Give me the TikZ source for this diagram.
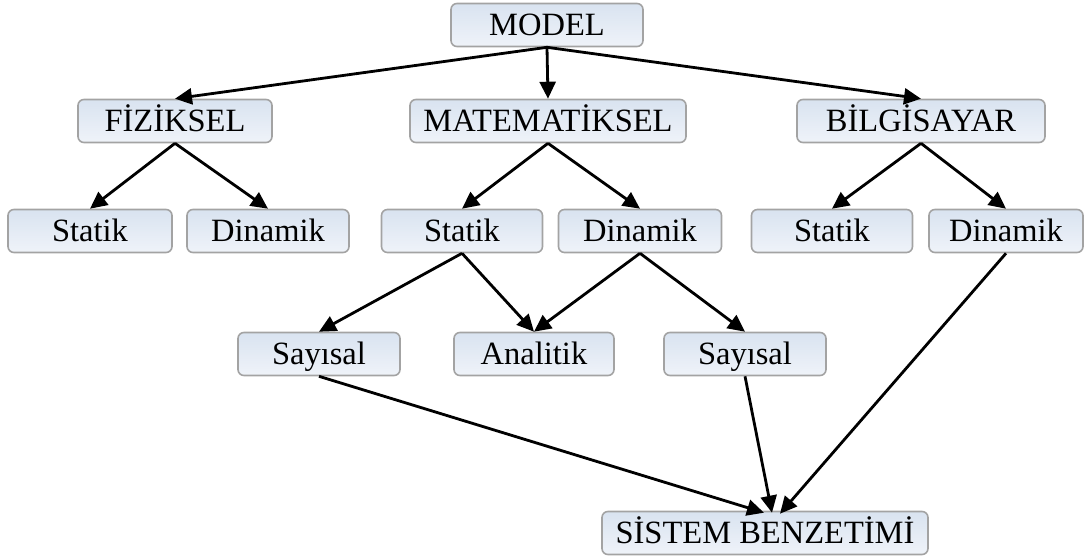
\documentclass[tikz,border=0pt]{standalone}
\usepackage{fontspec}
\setmainfont{Liberation Serif}
\usetikzlibrary{arrows.meta,shadings}
\definecolor{boxtop}{HTML}{D9E3F0}
\definecolor{boxbot}{HTML}{EFF3F9}
\definecolor{boxline}{HTML}{A3A3A3}
\begin{document}
\begin{tikzpicture}[x=1pt,y=-1pt,
  box/.style={draw=boxline, line width=1.6pt, rounded corners=6pt,
    top color=boxtop, bottom color=boxbot, inner sep=0pt,
    text height=24pt, text depth=2.5pt,
    minimum height=43pt, font=\fontsize{32.5}{38}\selectfont},
  link/.style={draw=black, line width=2.8pt,
    -{Triangle[length=17pt,width=16pt]}}]
\useasboundingbox (0,0) rectangle (1085,558);

% top level
\node[box, minimum width=192pt] (model) at (547,25) {MODEL};

% second level
\node[box, minimum width=194pt] (fiz) at (175,121) {FİZİKSEL};
\node[box, minimum width=276pt] (mat) at (548,121) {MATEMATİKSEL};
\node[box, minimum width=248pt] (bil) at (921,121) {BİLGİSAYAR};

% third level
\node[box, minimum width=164pt] (fs) at (90,231) {Statik};
\node[box, minimum width=162pt] (fd) at (268,231) {Dinamik};
\node[box, minimum width=161pt] (ms) at (462,231) {Statik};
\node[box, minimum width=163pt] (md) at (640,231) {Dinamik};
\node[box, minimum width=161pt] (bs) at (832,231) {Statik};
\node[box, minimum width=154pt] (bd) at (1006,231) {Dinamik};

% fourth level
\node[box, minimum width=162pt] (say1) at (319,354) {Sayısal};
\node[box, minimum width=160pt] (ana) at (534,354) {Analitik};
\node[box, minimum width=162pt] (say2) at (745,354) {Sayısal};

% bottom
\node[box, minimum width=326pt] (sis) at (765,533) {SİSTEM BENZETİMİ};

% connectors
\draw[link] (model.south) -- (fiz.north);
\draw[link] (model.south) -- (mat.north);
\draw[link] (model.south) -- (bil.north);

\draw[link] (fiz.south) -- (fs.north);
\draw[link] (fiz.south) -- (fd.north);
\draw[link] (mat.south) -- (ms.north);
\draw[link] (mat.south) -- (md.north);
\draw[link] (bil.south) -- (bs.north);
\draw[link] (bil.south) -- (bd.north);

\draw[link] (ms.south) -- (say1.north);
\draw[link] (ms.south) -- (ana.north);
\draw[link] (md.south) -- (ana.north);
\draw[link] (md.south) -- (say2.north);

\draw[link] (say1.south) -- ([xshift=-1pt,yshift=-2pt]sis.north);
\draw[link] (say2.south) -- ([xshift=7pt,yshift=-2pt]sis.north);
\draw[link] (bd.south) -- ([xshift=15pt,yshift=-3pt]sis.north);
\end{tikzpicture}
\end{document}
